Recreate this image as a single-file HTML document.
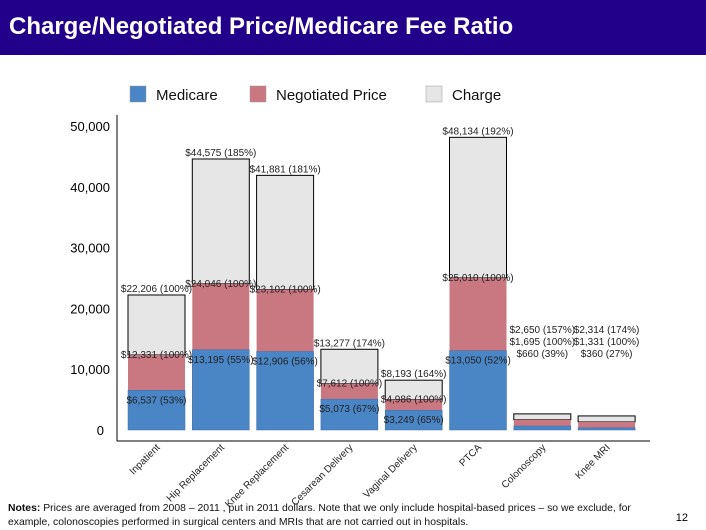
<!DOCTYPE html>
<html><head><meta charset="utf-8"><style>
body{margin:0;width:706px;height:529px;background:#fff;overflow:hidden;font-family:"Liberation Sans",sans-serif;position:relative}
#hdr{position:absolute;left:0;top:0;width:706px;height:55px;background:#22008a}
#title{position:absolute;left:9px;top:13px;color:#fff;font-weight:bold;font-size:24px;letter-spacing:0px}
#notes{position:absolute;left:8px;top:502px;font-size:10.4px;line-height:14px;color:#111;width:665px}
#pg{position:absolute;right:18px;top:512px;font-size:11px}
</style></head><body>
<div id="hdr"><div id="title">Charge/Negotiated Price/Medicare Fee Ratio</div></div>
<svg id="chart" width="706" height="529" style="position:absolute;left:0;top:0"></svg>
<div id="notes"><b>Notes:</b> Prices are averaged from 2008 – 2011 , put in 2011 dollars. Note that we only include hospital-based prices – so we exclude, for example, colonoscopies performed in surgical centers and MRIs that are not carried out in hospitals.</div>
<div id="pg">12</div>
<script>
const categories=["Inpatient","Hip Replacement","Knee Replacement","Cesarean Delivery","Vaginal Delivery","PTCA","Colonoscopy","Knee MRI"];
const medicare=[6537,13195,12906,5073,3249,13050,660,360];
const negotiated=[12331,24046,23102,7612,4986,25010,1695,1331];
const charge=[22206,44575,41881,13277,8193,48134,2650,2314];
const medPct=[53,55,56,67,65,52,39,27];
const chgPct=[100,185,181,174,164,192,157,174];
const yTicks=[0,10000,20000,30000,40000,50000];
const NS="http://www.w3.org/2000/svg";
const svg=document.getElementById('chart');
const y=v=>430-v*0.00608;
const x=i=>128+i*64.3;
const bw=57;
function el(t,a,p){const e=document.createElementNS(NS,t);for(const k in a)e.setAttribute(k,a[k]);(p||svg).appendChild(e);return e;}
const fmt=v=>'$'+v.toLocaleString('en-US');
let ax=el('line',{x1:117,y1:115,x2:117,y2:441,stroke:'#000'});

let bx=el('line',{x1:117,y1:441,x2:650,y2:441,stroke:'#000'});

yTicks.forEach(t=>{const e=el('text',{x:t==0?104:110,y:y(t)+5,'text-anchor':'end','font-size':13,fill:'#000'});e.textContent=t==0?'0':t.toLocaleString('en-US');
});
const leg=[['Medicare','#4a86c5',130],['Negotiated Price','#c97882',250],['Charge','#e6e6e6',426]];
leg.forEach(l=>{const g=el('g',{});
el('rect',{x:l[2],y:86,width:16,height:16,fill:l[1],stroke:'#999','stroke-width':0.5},g);
const t=el('text',{x:l[2]+26,y:100,'font-size':15,fill:'#111'},g);t.textContent=l[0];});
categories.forEach((c,i)=>{
 const X=x(i);
 let r=el('rect',{x:X,y:y(charge[i]),width:bw,height:y(negotiated[i])-y(charge[i]),fill:'#e6e6e6',stroke:'#000','stroke-width':1});
 
 r=el('rect',{x:X,y:y(negotiated[i]),width:bw,height:y(0)-y(negotiated[i]),fill:'#c97882'});
 
 r=el('rect',{x:X,y:y(medicare[i]),width:bw,height:y(0)-y(medicare[i]),fill:'#4a86c5',stroke:'#3a6ea8','stroke-width':0.5});
 
 const cx=X+bw/2;
 const small=charge[i]<5000;
 const labs=small?[[fmt(charge[i])+' ('+chgPct[i]+'%)',333],[fmt(negotiated[i])+' (100%)',345],[fmt(medicare[i])+' ('+medPct[i]+'%)',357]]
  :[[fmt(charge[i])+' ('+chgPct[i]+'%)',y(charge[i])-3],[fmt(negotiated[i])+' (100%)',y(negotiated[i])+3],[fmt(medicare[i])+' ('+medPct[i]+'%)',y(medicare[i])+13]];
 labs.forEach(L=>{const t=el('text',{x:cx,y:L[1],'text-anchor':'middle','font-size':10,fill:'#222'});t.textContent=L[0];
 });
 const t=el('text',{x:0,y:0,'text-anchor':'end','font-size':10,fill:'#222',transform:`translate(${cx+4},${448}) rotate(-45)`});t.textContent=c;
 
});
</script>
</body></html>
